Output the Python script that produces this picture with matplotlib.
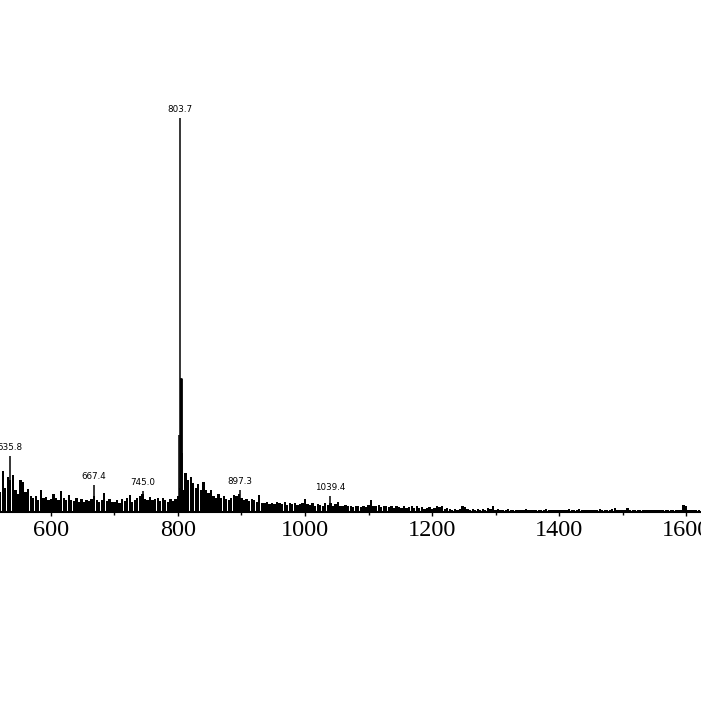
"""Mass spectrum stick plot (cropped view, m/z ~520-1620)."""
import matplotlib

matplotlib.use("Agg")
import matplotlib.pyplot as plt
import numpy as np

# background ion signal, one value per 4 m/z bin starting at 520 (relative %)
bin_start = 520
bin_step = 4
bin_int = [
    5.0, 10.5, 6.0, 9.0, 8.0, 9.5, 5.5, 4.5, 8.0, 7.5, 5.0, 5.8, 4.0, 3.5, 4.0, 3.0, 5.6, 3.5, 3.8, 3.0,
    3.2, 4.5, 3.5, 3.0, 5.4, 3.5, 3.0, 4.2, 3.0, 2.8, 3.5, 2.5, 3.2, 2.6, 3.0, 2.8, 3.4, 4.0, 3.0, 2.5,
    3.0, 4.8, 2.8, 3.2, 2.5, 2.6, 3.0, 2.4, 3.4, 2.8, 3.5, 4.2, 2.6, 3.0, 3.6, 4.0, 4.5, 3.4, 3.0, 3.8,
    3.0, 3.4, 3.6, 2.8, 3.6, 3.0, 2.6, 3.2, 2.8, 3.4, 4.0, 6.0, 5.5, 9.8, 8.0, 9.0, 7.4, 6.0, 7.2, 5.5,
    7.6, 5.5, 4.8, 5.6, 4.0, 3.6, 4.5, 3.6, 4.0, 3.2, 3.0, 3.5, 4.4, 4.0, 4.5, 3.6, 3.0, 3.4, 2.8, 3.2,
    3.0, 2.6, 4.2, 2.4, 2.2, 2.5, 2.0, 2.4, 2.0, 2.6, 2.2, 2.0, 2.6, 1.8, 2.2, 2.0, 2.4, 1.8, 2.0, 2.2,
    3.4, 2.0, 1.8, 2.2, 1.6, 2.0, 1.8, 1.6, 2.2, 1.8, 2.2, 1.6, 2.0, 2.6, 1.6, 1.4, 1.8, 1.4, 1.6, 1.2,
    1.4, 1.6, 1.2, 1.4, 1.2, 1.8, 3.0, 1.6, 1.4, 1.8, 1.2, 1.6, 1.4, 1.2, 1.6, 1.0, 1.4, 1.2, 1.0, 1.4,
    1.0, 1.2, 1.6, 1.0, 1.4, 1.0, 1.2, 0.8, 1.0, 1.2, 0.8, 1.0, 1.6, 1.2, 1.4, 0.8, 1.0, 0.8, 0.6, 0.8,
    0.6, 0.8, 1.6, 1.2, 0.8, 0.6, 0.8, 0.6, 0.8, 0.6, 0.8, 0.6, 1.0, 0.8, 1.4, 0.6, 0.8, 0.6, 0.5, 0.6,
    0.8, 0.5, 0.6, 0.5, 0.6, 0.5, 0.6, 0.8, 0.5, 0.4, 0.6, 0.5, 0.4, 0.6, 0.5, 0.8, 0.6, 0.5, 0.4, 0.5,
    0.6, 0.4, 0.5, 0.4, 0.8, 0.5, 0.6, 0.4, 0.8, 0.6, 0.4, 0.5, 0.4, 0.6, 0.4, 0.5, 0.8, 0.6, 0.4, 0.6,
    0.5, 0.8, 1.0, 0.6, 0.4, 0.5, 0.4, 1.0, 0.6, 0.4, 0.5, 0.4, 0.5, 0.4, 0.5, 0.4, 0.5, 0.4, 0.5, 0.4,
    0.5, 0.4, 0.5, 0.4, 0.5, 0.4, 0.6, 0.4, 0.5, 1.8, 1.6, 0.6, 0.4, 0.5, 0.4, 0.5,
]

# discrete peaks
peak_mz = [535.8, 667.4, 745.0, 801.7, 803.7, 805.0, 806.5, 897.3, 1039.4]
peak_int = [14.2, 6.9, 5.3, 19.5, 100.0, 34.0, 15.0, 5.6, 4.0]
label_mz = [535.8, 667.4, 745.0, 803.7, 897.3, 1039.4]

xticks = [600, 800, 1000, 1200, 1400, 1600]

bin_mz = bin_start + bin_step * np.arange(len(bin_int))

fig = plt.figure(figsize=(7.01, 7.01), dpi=100)
ax = fig.add_axes([0.0, (701 - 512) / 701, 1.0, 394 / 701])

ax.bar(bin_mz, bin_int, width=3.6, color="black", linewidth=0)
ax.vlines(peak_mz, 0, peak_int, color="black", linewidth=1.1)
ax.vlines([805.0], 0, [34.0], color="black", linewidth=2.0)

for mz in label_mz:
    h = peak_int[peak_mz.index(mz)]
    ax.text(mz, h + 1.0, f"{mz:.1f}", ha="center", va="bottom",
            fontsize=6.3, family="DejaVu Sans", clip_on=False)

ax.set_xticks(xticks)
ax.set_xticks(np.arange(600, 1700, 100), minor=True)
ax.set_xticklabels([str(t) for t in xticks], family="Liberation Serif", fontsize=17.5)
# limits after the ticks, set_xticks would widen them otherwise
ax.set_xlim(519.7, 1623.6)
ax.set_ylim(0, 100)
ax.tick_params(axis="x", which="major", direction="out", length=3, width=1, pad=3)
ax.tick_params(axis="x", which="minor", direction="out", length=2, width=1)
ax.set_yticks([])
for side in ("left", "top", "right"):
    ax.spines[side].set_visible(False)
ax.spines["bottom"].set_linewidth(1.5)

fig.savefig("out.png", dpi=100)
